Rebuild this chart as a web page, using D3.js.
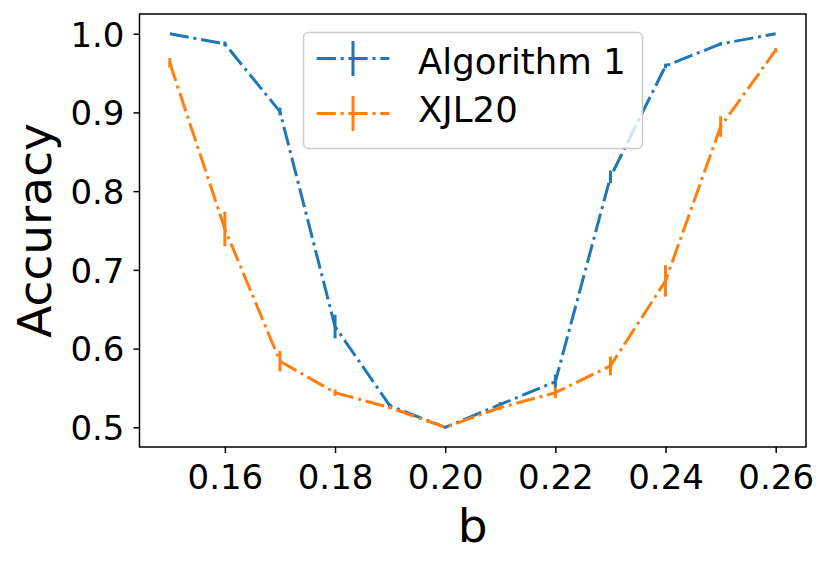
<!DOCTYPE html>
<html>
<head>
<meta charset="utf-8">
<script src="https://cdn.jsdelivr.net/npm/d3@7"></script>
<style>
  html, body { margin: 0; padding: 0; background: #fff; }
  svg { display: block; font-family: "DejaVu Sans", sans-serif; }
</style>
</head>
<body>
<svg id="chart" width="830" height="565"></svg>
<script>
// ---- data ----
const bValues = [0.15, 0.16, 0.17, 0.18, 0.19, 0.20, 0.21, 0.22, 0.23, 0.24, 0.25, 0.26];
const alg1Acc = [1.000, 0.987, 0.901, 0.628, 0.527, 0.500, 0.529, 0.558, 0.818, 0.959, 0.987, 1.000];
const alg1Err = [0.000, 0.003, 0.005, 0.015, 0.003, 0.000, 0.003, 0.009, 0.008, 0.003, 0.002, 0.000];
const xjlAcc  = [0.963, 0.752, 0.584, 0.544, 0.525, 0.500, 0.525, 0.544, 0.578, 0.686, 0.882, 0.979];
const xjlErr  = [0.006, 0.022, 0.013, 0.004, 0.002, 0.000, 0.003, 0.007, 0.012, 0.020, 0.013, 0.003];
const xTicks = [0.16, 0.18, 0.20, 0.22, 0.24, 0.26];
const yTicks = [0.5, 0.6, 0.7, 0.8, 0.9, 1.0];
const seriesNames = ["Algorithm 1", "XJL20"];
const seriesColors = ["#1f77b4", "#ff7f0e"];

// ---- layout ----
const L = 139.5, R = 806, T = 14, B = 447;
const lw = 3;
const dash = [6.4, 1.6, 1, 1.6].map(d => d * lw).join(",");

const svg = d3.select("#chart");
const x = d3.scaleLinear().domain([0.1445, 0.2655]).range([L, R]);
const y = d3.scaleLinear().domain([0.475, 1.025]).range([B, T]);

const series = [
  { name: seriesNames[0], color: seriesColors[0], vals: alg1Acc, errs: alg1Err },
  { name: seriesNames[1], color: seriesColors[1], vals: xjlAcc, errs: xjlErr }
];

const plot = svg.append("g");
const line = d3.line().x(d => x(d[0])).y(d => y(d[1]));

series.forEach(s => {
  const pts = bValues.map((b, i) => [b, s.vals[i], s.errs[i]]);
  plot.append("path")
    .attr("d", line(pts))
    .attr("fill", "none")
    .attr("stroke", s.color)
    .attr("stroke-width", lw)
    .attr("stroke-dasharray", dash)
    .attr("stroke-linejoin", "round");
  plot.selectAll(null).data(pts.filter(p => p[2] > 0)).enter().append("line")
    .attr("x1", p => x(p[0])).attr("x2", p => x(p[0]))
    .attr("y1", p => y(p[1] - p[2])).attr("y2", p => y(p[1] + p[2]))
    .attr("stroke", s.color)
    .attr("stroke-width", lw);
});

// axes frame
svg.append("rect")
  .attr("x", L).attr("y", T).attr("width", R - L).attr("height", B - T)
  .attr("fill", "none").attr("stroke", "#000").attr("stroke-width", 1.5);

// x axis
const xAxis = d3.axisBottom(x).tickValues(xTicks).tickSize(6).tickPadding(4)
  .tickFormat(d3.format(".2f"));
const gx = svg.append("g").attr("transform", `translate(0,${B})`).call(xAxis);
gx.select(".domain").remove();
gx.selectAll(".tick line").attr("stroke", "#000").attr("stroke-width", 1.5);
gx.selectAll(".tick text")
  .attr("font-size", 34).attr("font-family", "DejaVu Sans").attr("fill", "#000")
  .attr("dy", null).attr("y", 42.3);

// y axis
const yAxis = d3.axisLeft(y).tickValues(yTicks).tickSize(6).tickPadding(10)
  .tickFormat(d3.format(".1f"));
const gy = svg.append("g").attr("transform", `translate(${L},0)`).call(yAxis);
gy.select(".domain").remove();
gy.selectAll(".tick line").attr("stroke", "#000").attr("stroke-width", 1.5);
gy.selectAll(".tick text")
  .attr("font-size", 34).attr("font-family", "DejaVu Sans").attr("fill", "#000")
  .attr("dy", null).attr("y", 12.4).attr("x", -15);

// axis labels
svg.append("text")
  .attr("x", (L + R) / 2).attr("y", 541.5)
  .attr("text-anchor", "middle")
  .attr("font-size", 47).attr("fill", "#000")
  .text("b");
svg.append("text")
  .attr("transform", `translate(51,${(T + B) / 2}) rotate(-90)`)
  .attr("text-anchor", "middle")
  .attr("font-size", 47).attr("fill", "#000")
  .text("Accuracy");

// legend
const lg = svg.append("g");
lg.append("rect")
  .attr("x", 303.5).attr("y", 32.5).attr("width", 339).attr("height", 116)
  .attr("rx", 5).attr("ry", 5)
  .attr("fill", "#fff").attr("fill-opacity", 0.8)
  .attr("stroke", "#cccccc").attr("stroke-width", 1.5);
const rowsY = [58.5, 113.5];
const baseY = [74.3, 121.7];
series.forEach((s, i) => {
  lg.append("line")
    .attr("x1", 316.7).attr("x2", 389.3)
    .attr("y1", rowsY[i]).attr("y2", rowsY[i])
    .attr("stroke", s.color).attr("stroke-width", lw)
    .attr("stroke-dasharray", dash);
  lg.append("line")
    .attr("x1", 353).attr("x2", 353)
    .attr("y1", rowsY[i] - 17.5).attr("y2", rowsY[i] + 17.5)
    .attr("stroke", s.color).attr("stroke-width", lw);
  lg.append("text")
    .attr("x", 418).attr("y", baseY[i])
    .attr("font-size", 35.5).attr("fill", "#000")
    .text(s.name);
});
</script>
</body>
</html>
